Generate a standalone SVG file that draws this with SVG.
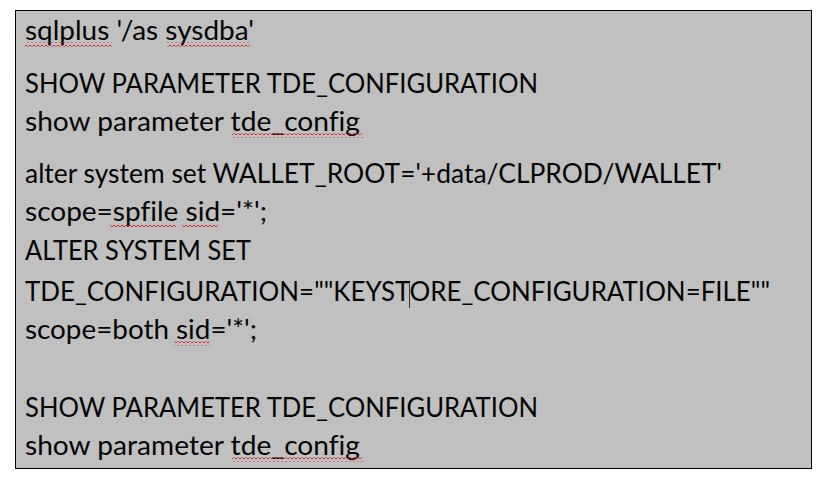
<svg xmlns="http://www.w3.org/2000/svg" width="830" height="484" viewBox="0 0 830 484">
<style>
.t{font-family:"Lato","Carlito","Liberation Sans",sans-serif;font-size:26px;fill:#050505;font-variant-ligatures:none;font-feature-settings:"liga" 0}
.sq{fill:url(#squig)}
</style>
<defs>
<pattern id="squig" patternUnits="userSpaceOnUse" width="4" height="4">
<path d="M0,3 L2,1 L4,3" fill="none" stroke="#d01818" stroke-width="0.9"/>
</pattern>
</defs>
<rect width="830" height="484" fill="#ffffff"/>
<g id="box">
<rect x="15.5" y="10.5" width="796" height="458" fill="#c0c0c0" stroke="#000" stroke-width="1"/>
</g>
<g id="text">
<text class="t" x="25" y="40" textLength="229" lengthAdjust="spacingAndGlyphs">sqlplus '/as sysdba'</text>
<text class="t" x="25" y="93" textLength="513" lengthAdjust="spacingAndGlyphs">SHOW PARAMETER TDE_CONFIGURATION</text>
<text class="t" x="25" y="131" textLength="335" lengthAdjust="spacingAndGlyphs">show parameter tde_config</text>
<text class="t" x="25" y="183" textLength="697" lengthAdjust="spacingAndGlyphs">alter system set WALLET_ROOT='+data/CLPROD/WALLET'</text>
<text class="t" x="25" y="221" textLength="242" lengthAdjust="spacingAndGlyphs">scope=spfile sid='*';</text>
<text class="t" x="25" y="260" textLength="226" lengthAdjust="spacingAndGlyphs">ALTER SYSTEM SET</text>
<text class="t" x="25" y="301" textLength="745" lengthAdjust="spacingAndGlyphs">TDE_CONFIGURATION=""KEYSTORE_CONFIGURATION=FILE""</text>
<text class="t" x="25" y="339" textLength="232" lengthAdjust="spacingAndGlyphs">scope=both sid='*';</text>
<text class="t" x="25" y="417" textLength="513" lengthAdjust="spacingAndGlyphs">SHOW PARAMETER TDE_CONFIGURATION</text>
<text class="t" x="25" y="455" textLength="335" lengthAdjust="spacingAndGlyphs">show parameter tde_config</text>
</g>
<g id="spellcheck">
<rect class="sq" x="25" y="42.5" width="87" height="4"/>
<rect class="sq" x="167" y="42.5" width="83" height="4"/>
<rect class="sq" x="232" y="133.5" width="131" height="4"/>
<rect class="sq" x="110" y="223.5" width="66" height="4"/>
<rect class="sq" x="182" y="223.5" width="36" height="4"/>
<rect class="sq" x="174" y="341.5" width="36" height="4"/>
<rect class="sq" x="232" y="457.5" width="131" height="4"/>
</g>
<g id="cursor">
<line x1="409.5" y1="284" x2="409.5" y2="308" stroke="#333" stroke-width="1"/>
</g>
</svg>
